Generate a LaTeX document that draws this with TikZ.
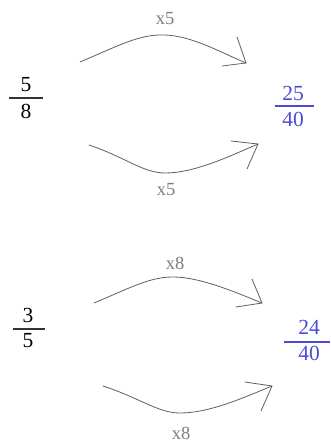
\documentclass[tikz,border=0pt]{standalone}
\usepackage{fontspec}
\setmainfont{Liberation Serif}
\definecolor{fracblue}{RGB}{75,75,210}
\definecolor{linegray}{RGB}{95,95,95}
\definecolor{labgray}{RGB}{125,125,125}
\begin{document}
\begin{tikzpicture}[x=1pt,y=-1pt,
  num/.style={inner sep=0pt,font=\fontsize{21.5}{24}\selectfont},
  lab/.style={inner sep=0pt,text=labgray,font=\fontsize{18.5}{20}\selectfont},
  bar/.style={line width=1.1pt},
  conn/.style={draw=linegray,line width=0.8pt,line cap=round,line join=round}]
\useasboundingbox (0,0) rectangle (330,443);
% fraction 5/8
\node[num] (n1) at (26,84.5) {5};
\node[num] (d1) at (26,111) {8};
\coordinate (f1l) at (9,98); \coordinate (f1r) at (43,98);
\draw[bar,black!80] (f1l) -- (f1r);
% fraction 25/40
\node[num,text=fracblue] (n2) at (293,93.5) {25};
\node[num,text=fracblue] (d2) at (293,119) {40};
\coordinate (f2l) at (275,106); \coordinate (f2r) at (314,106);
\draw[bar,fracblue] (f2l) -- (f2r);
% fraction 3/5
\node[num] (n3) at (28,315.5) {3};
\node[num] (d3) at (28,340.5) {5};
\coordinate (f3l) at (13,329); \coordinate (f3r) at (45,329);
\draw[bar,black!80] (f3l) -- (f3r);
% fraction 24/40
\node[num,text=fracblue] (n4) at (309,327.5) {24};
\node[num,text=fracblue] (d4) at (309,353.5) {40};
\coordinate (f4l) at (284,342); \coordinate (f4r) at (330,342);
\draw[bar,fracblue] (f4l) -- (f4r);
% labels
\node[lab] (l1) at (165,19) {x5};
\node[lab] (l2) at (166,190) {x5};
\node[lab] (l3) at (175,263) {x8};
\node[lab] (l4) at (181,433) {x8};
% arc 1 top
\coordinate (s1) at (80,62); \coordinate (m1) at (165,35); \coordinate (t1) at (246,63);
\coordinate (a1) at (237,37); \coordinate (b1) at (222,66);
\draw[conn] (s1) .. controls (120,45) and (140,34) .. (m1) .. controls (192,36) and (220,52) .. (t1);
\draw[conn] (a1) -- (t1) -- (b1);
% arc 1 bottom
\coordinate (s2) at (89,145); \coordinate (m2) at (165,173); \coordinate (t2) at (258,144);
\coordinate (a2) at (231,141); \coordinate (b2) at (247,169);
\draw[conn] (s2) .. controls (125,157) and (143,173) .. (m2) .. controls (195,173) and (230,156) .. (t2);
\draw[conn] (a2) -- (t2) -- (b2);
% arc 2 top
\coordinate (s3) at (94,303); \coordinate (m3) at (173,277); \coordinate (t3) at (262,303);
\coordinate (a3) at (252,279); \coordinate (b3) at (236,307);
\draw[conn] (s3) .. controls (132,287) and (150,277) .. (m3) .. controls (200,277) and (235,292) .. (t3);
\draw[conn] (a3) -- (t3) -- (b3);
% arc 2 bottom
\coordinate (s4) at (103,386); \coordinate (m4) at (180,413); \coordinate (t4) at (272,386);
\coordinate (a4) at (245,382); \coordinate (b4) at (261,411);
\draw[conn] (s4) .. controls (140,398) and (158,413) .. (m4) .. controls (210,413) and (245,397) .. (t4);
\draw[conn] (a4) -- (t4) -- (b4);
\end{tikzpicture}
\end{document}
